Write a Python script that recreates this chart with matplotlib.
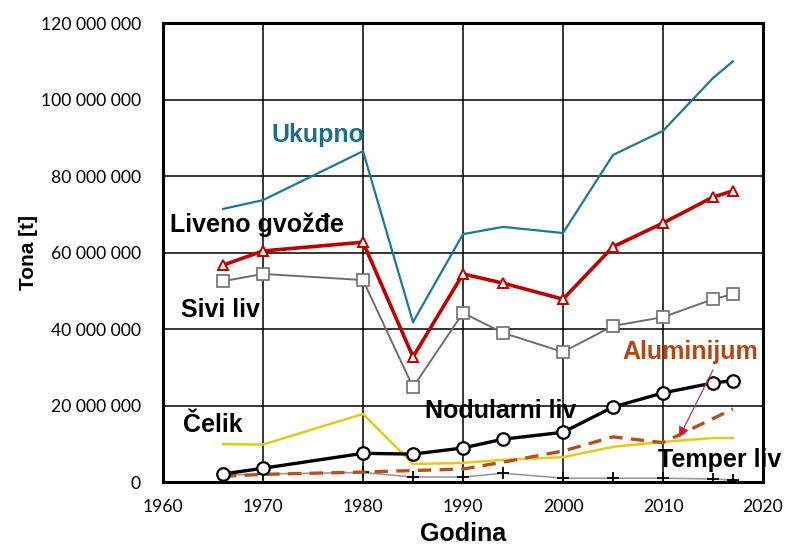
import matplotlib
matplotlib.use("Agg")
import matplotlib.pyplot as plt
from matplotlib.ticker import FuncFormatter

# Data (million tonnes -> tonnes)
years = [1966, 1970, 1980, 1985, 1990, 1994, 2000, 2005, 2010, 2015, 2017]
ukupno = [71.4, 73.7, 86.5, 41.8, 64.8, 66.7, 65.1, 85.5, 91.8, 105.6, 110.0]
liveno = [56.7, 60.4, 62.7, 32.7, 54.4, 52.0, 47.8, 61.5, 67.7, 74.5, 76.1]
sivi = [52.5, 54.4, 52.8, 24.8, 44.2, 39.0, 34.0, 40.8, 43.1, 47.8, 49.1]
nodularni = [2.1, 3.6, 7.5, 7.3, 8.9, 11.2, 13.0, 19.6, 23.3, 25.9, 26.5]
celik = [9.9, 9.8, 17.8, 4.7, 5.0, 5.8, 6.5, 9.2, 10.5, 11.5, 11.5]
alu_years = [1966, 1970, 1980, 1985, 1990, 1994, 2000, 2005, 2010, 2017]
aluminijum = [1.5, 2.0, 2.6, 3.0, 3.4, 5.2, 8.1, 11.8, 10.3, 19.1]
temper_years = [1966, 1970, 1980, 1985, 1990, 1994, 2000, 2005, 2010, 2015, 2017]
temper = [1.8, 2.1, 2.5, 1.3, 1.3, 2.3, 1.0, 1.0, 1.0, 0.8, 0.5]

M = 1e6
def sc(v):
    return [x * M for x in v]

xticks = [1960, 1970, 1980, 1990, 2000, 2010, 2020]
yticks = [0, 20e6, 40e6, 60e6, 80e6, 100e6, 120e6]

fig = plt.figure(figsize=(7.86, 5.48), dpi=100)
ax = fig.add_axes([0.2074, 0.1204, 0.7633, 0.8376])

tickfont = "Lato"
boldfont = "Liberation Sans"

ax.plot(years, sc(ukupno), color="#1d7896", lw=1.6, zorder=3)
ax.plot(years, sc(liveno), color="#c00000", lw=2.6, marker="^", ms=7,
        mfc="white", mec="#c00000", mew=1.4, zorder=4)
ax.plot(years, sc(sivi), color="#6e6e6e", lw=1.4, marker="s", ms=8,
        mfc="white", mec="#6e6e6e", mew=1.2, zorder=4)
ax.plot(temper_years, sc(temper), color="#9a9a9a", lw=1.2, marker="+", ms=8,
        mec="black", mew=1.3, zorder=3)
ax.plot(years, sc(celik), color="#e8c81a", lw=1.8, zorder=3)
ax.plot(alu_years, sc(aluminijum), color="#b8501a", lw=2.4, ls=(0, (4, 2.5)), zorder=4)
ax.plot(years, sc(nodularni), color="black", lw=2.4, marker="o", ms=9,
        mfc="white", mec="black", mew=1.6, zorder=5)

ax.set_xlim(1960, 2020)
ax.set_ylim(0, 120e6)
ax.set_xticks(xticks)
ax.set_yticks(yticks)
ax.yaxis.set_major_formatter(FuncFormatter(lambda v, p: f"{int(round(v)):,}".replace(",", " ")))
ax.grid(True, color="black", lw=1.1)
ax.set_axisbelow(True)
ax.tick_params(axis="y", length=0, pad=16, labelsize=12.6)
ax.tick_params(axis="x", length=0, pad=12, labelsize=12.6)
for lab in ax.get_xticklabels() + ax.get_yticklabels():
    lab.set_fontfamily(tickfont)
for s in ax.spines.values():
    s.set_linewidth(2.2)
    s.set_color("black")

ax.set_xlabel("Godina", fontsize=18, fontweight="bold", family=boldfont, labelpad=5)
ax.set_ylabel("Tona [t]", fontsize=15, fontweight="bold", family=boldfont, labelpad=2)

def lab(x, y, t, color="black"):
    ax.text(x, y * M, t, fontsize=18, fontweight="bold", family=boldfont,
            color=color, ha="left", va="center", clip_on=False, zorder=6)

lab(1970.8, 90.7, "Ukupno", "#1d6e88")
lab(1960.7, 67.2, "Liveno gvožđe")
lab(1961.8, 45.0, "Sivi liv")
lab(1962.0, 14.9, "Čelik")
lab(1986.2, 18.6, "Nodularni liv")
lab(2005.9, 34.0, "Aluminijum", "#b5460f")
lab(2009.5, 5.75, "Temper liv")

ax.annotate("", xy=(2011.6, 11.6 * M), xytext=(2015.0, 29.3 * M),
            arrowprops=dict(arrowstyle="-|>", color="#c0306a", lw=0.9,
                            mutation_scale=16, fc="#e01010", ec="#c0306a",
                            shrinkA=0, shrinkB=0),
            zorder=6)

fig.savefig("out.png", dpi=100)
